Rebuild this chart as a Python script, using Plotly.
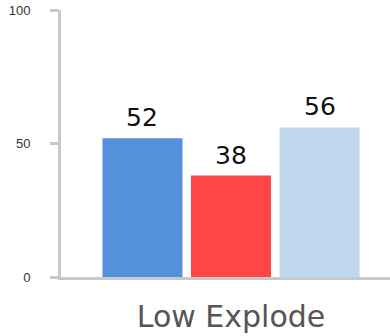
import plotly.graph_objects as go

categories = ["Low Explode"]
series_names = ["A", "B", "C"]
series_values = [[52], [38], [56]]
series_colors = ["#5591DB", "#FF4545", "#C1D7F0"]
y_ticks = [0, 50, 100]

BARGAP = 0.219
BARGROUPGAP = 0.096

fig = go.Figure()
n = len(series_names)
slot = (1 - BARGAP) / n
for i, (name, vals, col) in enumerate(zip(series_names, series_values, series_colors)):
    fig.add_trace(go.Bar(
        x=categories, y=vals, name=name,
        marker=dict(color=col, line=dict(width=0)),
        cliponaxis=False,
    ))
    for ci, v in enumerate(vals):
        fig.add_annotation(
            x=ci + (i - (n - 1) / 2) * slot, y=v, xref="x", yref="y",
            text=str(v), showarrow=False, yanchor="bottom", yshift=4,
            font=dict(family="DejaVu Sans", size=25, color="#111111"),
        )

fig.update_layout(
    width=390, height=336,
    margin=dict(l=61, r=0, t=10, b=59),
    paper_bgcolor="white", plot_bgcolor="white",
    showlegend=False,
    barmode="group", bargap=BARGAP, bargroupgap=BARGROUPGAP,
    xaxis=dict(
        type="category", range=[-0.5, 0.4676], automargin=False,
        showline=True, linecolor="#c8c8c8", linewidth=3,
        ticks="", showgrid=False,
        tickfont=dict(family="DejaVu Sans", size=30, color="#555555"),
        ticklabelstandoff=11,
    ),
    yaxis=dict(
        range=[0, 100], tickvals=y_ticks, automargin=False,
        showline=True, linecolor="#c8c8c8", linewidth=3,
        ticks="outside", ticklen=8, tickwidth=3, tickcolor="#c8c8c8",
        showgrid=False, zeroline=False,
        tickfont=dict(family="Liberation Sans", size=13, color="#333333"),
        ticklabelstandoff=17,
    ),
)

fig.write_html("out.html")
